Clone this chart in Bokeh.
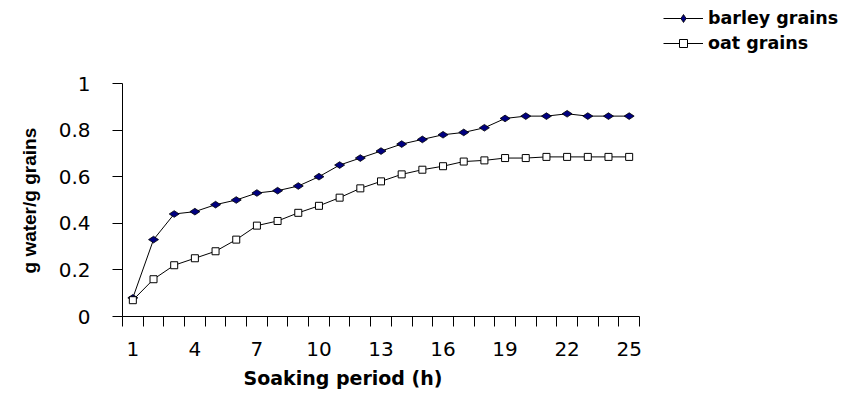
from bokeh.plotting import figure
from bokeh.models import (Range1d, FixedTicker, CustomJSTickFormatter, Legend,
                          LegendItem, Title)
from bokeh.embed import file_html
from bokeh.resources import INLINE

# ---- data ----
hours = list(range(1, 26))
barley = [0.08, 0.33, 0.44, 0.45, 0.48, 0.50, 0.53, 0.54, 0.56, 0.60,
          0.65, 0.68, 0.71, 0.74, 0.76, 0.78, 0.79, 0.81, 0.85, 0.86,
          0.86, 0.87, 0.86, 0.86, 0.86]
oat = [0.07, 0.16, 0.22, 0.25, 0.28, 0.33, 0.39, 0.41, 0.445, 0.475,
       0.51, 0.55, 0.58, 0.61, 0.63, 0.645, 0.665, 0.67, 0.68, 0.68,
       0.685, 0.685, 0.685, 0.685, 0.685]
x_tick_labels = [1, 4, 7, 10, 13, 16, 19, 22, 25]
y_ticks = [0, 0.2, 0.4, 0.6, 0.8, 1]
series_names = ["barley grains", "oat grains"]
x_title = "Soaking period (h)"
y_title = "g water/g grains"

FONT = "DejaVu Sans"

# layout (pixels): plotted area spans x 122..639, y 83..316 of the canvas;
# the frame is extended to the top/right canvas edges so the legend fits in it.
W, H = 842, 395
AX_L, AX_R, AX_T, AX_B = 122, 639, 83, 316
x0, x1 = hours[0] - 0.5, hours[-1] + 0.5
x_end = x0 + (x1 - x0) * (W - AX_L) / (AX_R - AX_L)
y_end = y_ticks[-1] * AX_B / (AX_B - AX_T)

p = figure(width=W, height=H, output_backend="svg", toolbar_location=None,
           x_range=Range1d(x0, x_end), y_range=Range1d(y_ticks[0], y_end),
           min_border_left=AX_L, min_border_right=0,
           min_border_top=0, min_border_bottom=H - AX_B)
p.outline_line_color = None
p.xgrid.grid_line_color = None
p.ygrid.grid_line_color = None
p.background_fill_color = "white"
p.border_fill_color = "white"

bl = p.line(hours, barley, line_color="black", line_width=1)
bm = p.scatter(hours, barley, marker="diamond", size=10, angle=1.5708,
               fill_color="#000080", line_color="black", line_width=0.8)
ol = p.line(hours, oat, line_color="black", line_width=1)
om = p.scatter(hours, oat, marker="square", size=7,
               fill_color="white", line_color="black", line_width=1)

# x axis: tick marks at category boundaries, labels every 3rd
boundaries = [h - 0.5 for h in hours] + [hours[-1] + 0.5]
xa = p.xaxis[0]
xa.bounds = (x0, x1)
xa.ticker = FixedTicker(ticks=x_tick_labels, minor_ticks=boundaries)
xa.major_tick_line_color = None
xa.minor_tick_line_color = "black"
xa.minor_tick_out = 10
xa.minor_tick_in = 0
xa.axis_line_color = "black"
xa.major_label_text_font = FONT
xa.major_label_text_font_size = "20px"
xa.major_label_text_color = "black"
xa.major_label_standoff = 15

ya = p.yaxis[0]
ya.bounds = (y_ticks[0], y_ticks[-1])
ya.ticker = FixedTicker(ticks=y_ticks, minor_ticks=[])
ya.formatter = CustomJSTickFormatter(code="return String(Math.round(tick*10)/10);")
ya.major_tick_out = 10
ya.major_tick_in = 0
ya.major_tick_line_color = "black"
ya.axis_line_color = "black"
ya.major_label_text_font = FONT
ya.major_label_text_font_size = "20px"
ya.major_label_text_color = "black"
ya.major_label_standoff = 22

p.add_layout(Title(text=y_title, align="left", offset=43,
                   text_font="Liberation Sans", text_font_size="19px",
                   text_font_style="bold", text_color="black", standoff=31),
             "left")

p.add_layout(Title(text=x_title, align="left", offset=121,
                   text_font=FONT, text_font_size="19px",
                   text_font_style="bold", text_color="black", standoff=13),
             "below")

legend = Legend(items=[LegendItem(label=series_names[0], renderers=[bl, bm]),
                       LegendItem(label=series_names[1], renderers=[ol, om])],
                location=(541, 263), glyph_width=40, glyph_height=20,
                label_height=20, spacing=5, label_standoff=5,
                padding=0, margin=0, border_line_color=None,
                background_fill_alpha=0,
                label_text_font=FONT, label_text_font_size="17.5px",
                label_text_font_style="bold", label_text_color="black")
p.add_layout(legend, "center")

open("out.html", "w").write(file_html(p, INLINE))
